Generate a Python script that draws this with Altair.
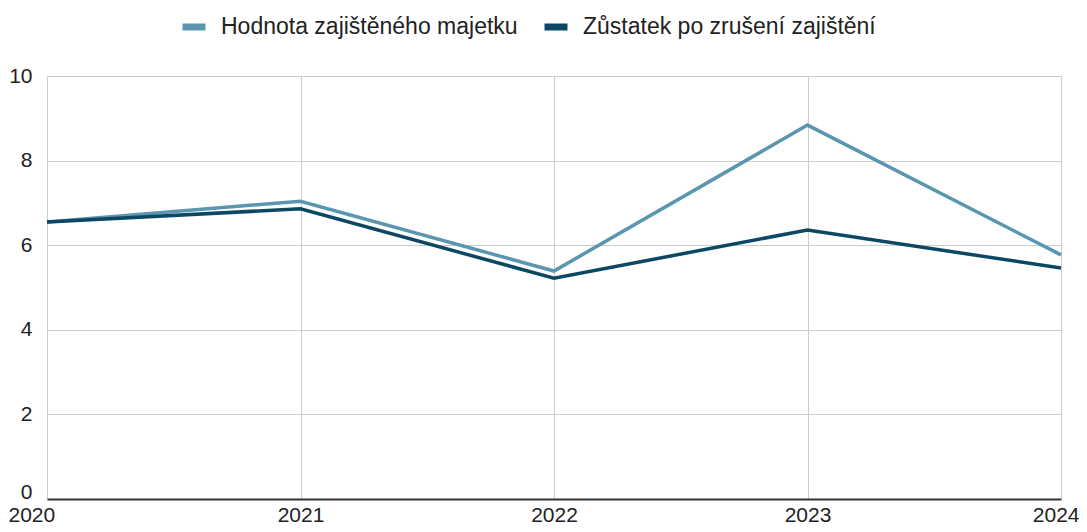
import altair as alt
import pandas as pd

years = [2020, 2021, 2022, 2023, 2024]
hodnota = [6.55, 7.04, 5.39, 8.84, 5.77]
zustatek = [6.55, 6.86, 5.22, 6.36, 5.46]
series_names = ["Hodnota zajištěného majetku", "Zůstatek po zrušení zajištění"]
colors = ["#5b96b0", "#0c4864"]

rows = []
for name, vals in zip(series_names, [hodnota, zustatek]):
    for y, v in zip(years, vals):
        rows.append({"rok": y, "hodnota": v, "serie": name})
df = pd.DataFrame(rows)

FONT = "Liberation Sans"

chart = alt.Chart(df).mark_line(strokeWidth=3.5).encode(
    x=alt.X("rok:Q",
            scale=alt.Scale(domain=[2020, 2024], nice=False, zero=False),
            axis=alt.Axis(values=years, format="d", title=None, ticks=False,
                          labelPadding=5, labelFontSize=21, labelColor="#222222",
                          labelFont=FONT, labelFlush=False,
                          labelAlign=alt.ExprRef("datum.value == 2020 ? 'left' : (datum.value == 2024 ? 'right' : 'center')"),
                          labelOffset=alt.ExprRef("datum.value == 2020 ? -39 : (datum.value == 2024 ? 18 : 0)"),
                          gridColor="#cccccc", gridWidth=1,
                          domainColor="#333333", domainWidth=2)),
    y=alt.Y("hodnota:Q",
            scale=alt.Scale(domain=[0, 10], nice=False),
            axis=alt.Axis(values=[0, 2, 4, 6, 8, 10], title=None, ticks=False, domain=False,
                          labelPadding=15, labelFontSize=21, labelColor="#222222",
                          labelOffset=alt.ExprRef("datum.value == 0 ? -7 : 0"),
                          labelFont=FONT, gridColor="#cccccc", gridWidth=1)),
    color=alt.Color("serie:N",
                    scale=alt.Scale(domain=series_names, range=colors),
                    legend=alt.Legend(orient="none", legendX=132, legendY=-64,
                                      direction="horizontal", title=None,
                                      symbolType="stroke", symbolSize=529,
                                      symbolStrokeWidth=7, labelFontSize=23,
                                      labelFont=FONT, labelColor="#222222",
                                      labelLimit=0,
                                      columnPadding=12, labelOffset=12)),
).properties(
    width=1014, height=423,
    autosize=alt.AutoSizeParams(type="none"),
    padding={"left": 39, "top": 68, "right": 18, "bottom": 25},
).configure_view(stroke=None)

chart.save("out.html", embed_options={"renderer": "svg", "actions": False})
